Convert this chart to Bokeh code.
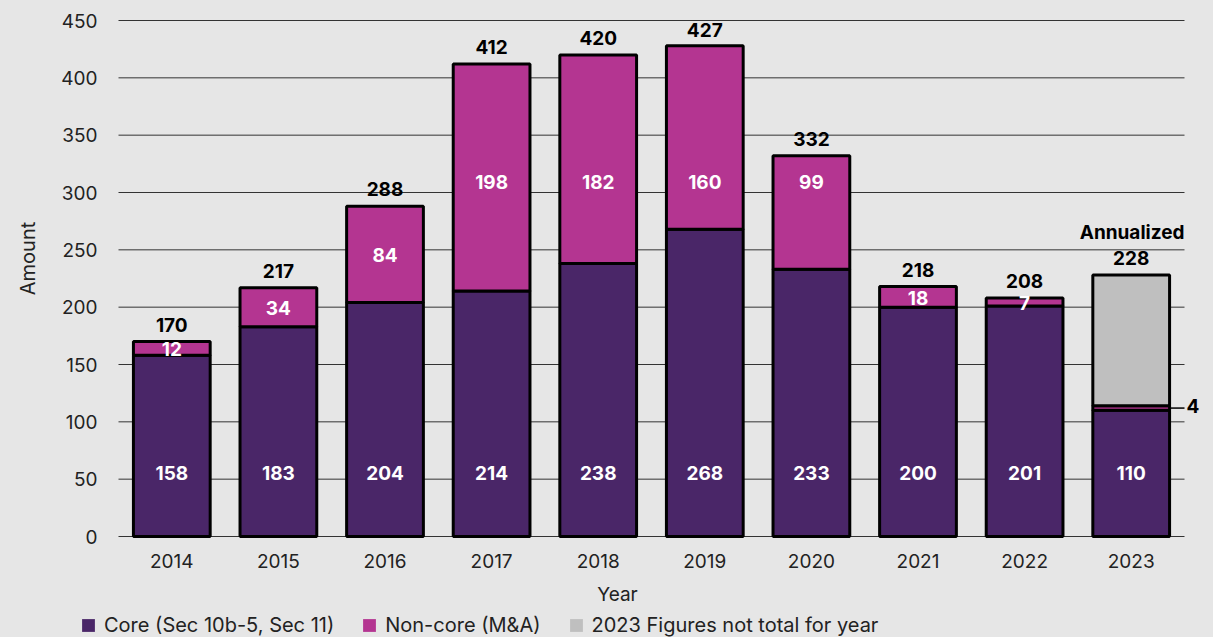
import math
import pandas as pd
from bokeh.plotting import figure
from bokeh.models import (ColumnDataSource, Range1d, Legend, LegendItem,
                          Label, FixedTicker)
from bokeh.core.properties import value
from bokeh.embed import file_html
from bokeh.resources import INLINE

years = ["2014", "2015", "2016", "2017", "2018", "2019", "2020", "2021", "2022", "2023"]
core = [158, 183, 204, 214, 238, 268, 233, 200, 201, 110]
noncore = [12, 34, 84, 198, 182, 160, 99, 18, 7, 4]
totals = [170, 217, 288, 412, 420, 427, 332, 218, 208, 228]
y_ticks = [0, 50, 100, 150, 200, 250, 300, 350, 400, 450]
annualized_year = "2023"

CORE_C = "#4a2668"
NONCORE_C = "#b43591"
GREY_C = "#bfbfbf"
BG = "#e6e6e6"
FONT = "Inter"
TXT = "#222222"

# page layout (pixels)
W_PX, H_PX = 1213, 637
LEFT, RIGHT, TOP, BOTTOM = 118, 29, 20, 101
CORE_LABEL_LEVEL = 55
NC_LABEL_LEVEL = 310

n = len(years)
df = pd.DataFrame({"year": years, "core": core, "noncore": noncore, "total": totals})
df["x"] = range(n)
df["nc_top"] = df["core"] + df["noncore"]
df["core_lab_y"] = CORE_LABEL_LEVEL
df["nc_mid"] = df["core"] + df["noncore"] / 2
# segment labels sit on a common level when it falls inside the segment
inside_level = (df["core"] < NC_LABEL_LEVEL - 10) & (df["nc_top"] > NC_LABEL_LEVEL + 10)
df["nc_lab_y"] = df["nc_mid"].where(~inside_level, NC_LABEL_LEVEL)
df["core_s"] = df["core"].astype(str)
df["nc_s"] = df["noncore"].astype(str)
df["tot_s"] = df["total"].astype(str)

src = ColumnDataSource(df)
src_nc_lab = ColumnDataSource(df[df["year"] != annualized_year])
ann = df[df["year"] == annualized_year]
src_grey = ColumnDataSource(ann)

# the plotting frame covers the whole canvas; the chart area is set by the ranges
ux = n / (W_PX - LEFT - RIGHT)
uy = (y_ticks[-1] - y_ticks[0]) / (H_PX - TOP - BOTTOM)
x_range = Range1d(-0.5 - LEFT * ux, n - 0.5 + RIGHT * ux)
y_range = Range1d(y_ticks[0] - BOTTOM * uy, y_ticks[-1] + TOP * uy)

W = 0.72
p = figure(x_range=x_range, y_range=y_range,
           width=W_PX, height=H_PX, output_backend="svg", toolbar_location=None,
           min_border=0, min_border_left=0, min_border_right=0, min_border_top=0,
           min_border_bottom=0)
p.background_fill_color = BG
p.border_fill_color = BG
p.outline_line_color = None
p.xgrid.grid_line_color = None
p.ygrid.grid_line_color = None

# gridlines limited to the category span
p.segment(x0=[-0.5] * len(y_ticks), x1=[n - 0.5] * len(y_ticks), y0=y_ticks, y1=y_ticks,
          line_color="#333333", line_width=1)

p.vbar(x="x", bottom=0, top="core", width=W, source=src,
       fill_color=CORE_C, line_color="black", line_width=3)
p.vbar(x="x", bottom="core", top="nc_top", width=W, source=src,
       fill_color=NONCORE_C, line_color="black", line_width=3)
p.vbar(x="x", bottom="nc_top", top="total", width=W, source=src_grey,
       fill_color=GREY_C, line_color="black", line_width=3)

VAL_FS = "19px"
# labels
p.text(x="x", y="core_lab_y", text="core_s", source=src, text_color="white",
       text_font=value(FONT), text_font_style="bold", text_font_size=VAL_FS,
       text_align="center", text_baseline="middle")
p.text(x="x", y="nc_lab_y", text="nc_s", source=src_nc_lab, text_color="white",
       text_font=value(FONT), text_font_style="bold", text_font_size=VAL_FS,
       text_align="center", text_baseline="middle", y_offset=1)
p.text(x="x", y="total", text="tot_s", source=src, text_color="black",
       text_font=value(FONT), text_font_style="bold", text_font_size=VAL_FS,
       text_align="center", text_baseline="middle", y_offset=-17)

# 2023 annotations
ai = years.index(annualized_year)
a_mid = float(ann["nc_mid"].iloc[0])
a_tot = float(ann["total"].iloc[0])
p.segment(x0=[ai + W / 2], x1=[ai + 0.5], y0=[a_mid], y1=[a_mid],
          line_color="black", line_width=1.5)
p.add_layout(Label(x=ai + 0.5, y=a_mid, text=str(int(ann["noncore"].iloc[0])),
                   x_offset=2, y_offset=2, text_font=FONT, text_font_style="bold",
                   text_font_size=VAL_FS, text_baseline="middle", text_align="left",
                   text_color="black"))
p.add_layout(Label(x=ai + 0.5, y=a_tot, text="Annualized", y_offset=43,
                   text_font=FONT, text_font_style="bold", text_font_size=VAL_FS,
                   text_baseline="middle", text_align="right", text_color="black"))

# axes, pinned to the chart area
p.xaxis.ticker = FixedTicker(ticks=list(range(n)))
p.xaxis.major_label_overrides = {i: y for i, y in enumerate(years)}
p.xaxis.fixed_location = y_ticks[0]
p.yaxis.ticker = FixedTicker(ticks=y_ticks)
p.yaxis.fixed_location = -0.5
for ax in (p.xaxis[0], p.yaxis[0]):
    ax.axis_line_color = None
    ax.major_tick_line_color = None
    ax.minor_tick_line_color = None
    ax.major_label_text_font = FONT
    ax.major_label_text_font_size = "19px"
    ax.major_label_text_color = TXT
p.yaxis.major_label_standoff = 15
p.xaxis.major_label_standoff = 11

# axis titles
p.add_layout(Label(x=27, y=(y_ticks[0] + y_ticks[-1]) / 2 + 20 * uy, x_units="screen",
                   text="Amount", angle=math.pi / 2, text_font=FONT, text_font_size="20px",
                   text_color=TXT, text_align="center", text_baseline="middle"))
p.add_layout(Label(x=(n - 1) / 2, y=y_ticks[0], x_offset=-34, y_offset=-58, text="Year",
                   text_font=FONT, text_font_size="19px", text_color=TXT,
                   text_align="center", text_baseline="middle"))

# legend (swatch-only renderers, nothing drawn in the chart)
lsrc = ColumnDataSource(dict(x=[float("nan")], top=[float("nan")]))
r1 = p.vbar(x="x", top="top", width=0.5, source=lsrc, fill_color=CORE_C, line_color=None)
r2 = p.vbar(x="x", top="top", width=0.5, source=lsrc, fill_color=NONCORE_C, line_color=None)
r3 = p.vbar(x="x", top="top", width=0.5, source=lsrc, fill_color=GREY_C, line_color=None)
legend = Legend(items=[LegendItem(label="Core (Sec 10b-5, Sec 11)", renderers=[r1]),
                       LegendItem(label="Non-core (M&A)", renderers=[r2]),
                       LegendItem(label="2023 Figures not total for year", renderers=[r3])],
                orientation="horizontal", location=(80, 0),
                background_fill_alpha=0, border_line_color=None,
                padding=0, margin=0, spacing=27, label_standoff=8,
                glyph_width=16, glyph_height=16,
                label_text_font=FONT, label_text_font_size="20px",
                label_text_color=TXT, label_height=20)
p.add_layout(legend, "center")

html = file_html(p, INLINE)
html = html.replace("<head>", "<head><style>body{background:#e6e6e6;}</style>", 1)
open("out.html", "w").write(html)
